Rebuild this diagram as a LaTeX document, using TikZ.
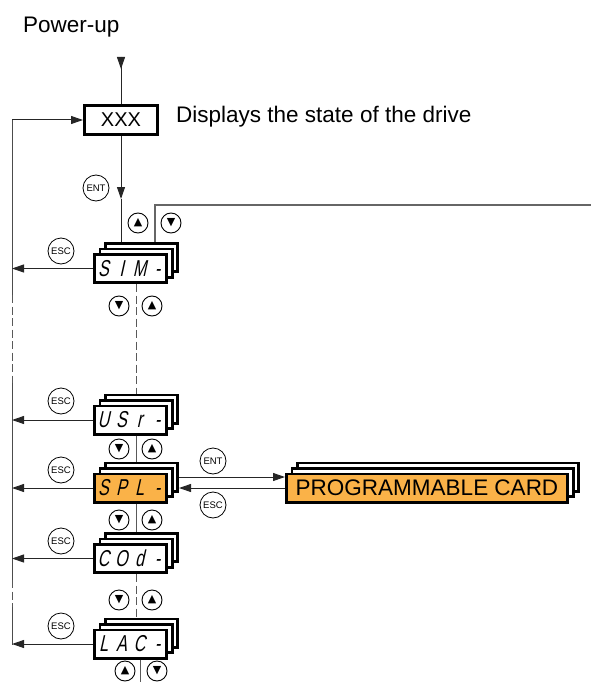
\documentclass[tikz,border=0pt]{standalone}
\usepackage{fontspec}
\setmainfont{Liberation Sans}
\newfontfamily\segfont[FakeSlant=0.22,FakeStretch=0.7]{Liberation Sans}
\newfontfamily\symfont{DejaVu Sans}
\usetikzlibrary{arrows.meta}
\definecolor{cardorange}{RGB}{250,178,72}
\newcommand\segcells[4]{\segfont\fontsize{23}{23}\selectfont\makebox[18pt]{#1}\makebox[18pt]{#2}\makebox[18pt]{#3}\makebox[18pt]{#4}}
% name, x, y, fill, c1..c4
\newcommand\menustack[8]{%
  \node[card] (#1-b) at (#2+11,#3-11) {};
  \node[card] (#1-m) at (#2+5.5,#3-5.5) {};
  \node[card, fill=#4] (#1) at (#2,#3) {\segcells{#5}{#6}{#7}{#8}};
}
\tikzset{
  card/.style={draw, line width=2.6pt, fill=white, minimum width=72.4pt, minimum height=28.4pt, inner sep=0pt},
  widecard/.style={card, minimum width=281.4pt},
  key/.style={circle, draw, line width=0.8pt, minimum size=26pt, inner sep=0pt, font=\fontsize{9.5}{10}\selectfont},
  btn/.style={circle, draw, line width=0.9pt, minimum size=20pt, inner sep=0pt, font=\symfont\fontsize{11}{11}\selectfont},
  conn/.style={line width=1pt, black!85},
  arr/.style={conn, -{Triangle[length=12pt,width=8pt]}},
  gline/.style={line width=1.3pt, black!60},
  dline/.style={line width=1pt, black!65, dash pattern=on 8pt off 3.5pt},
  label/.style={inner sep=0pt, font=\fontsize{22.5}{27}\selectfont},
}
\begin{document}
\begin{tikzpicture}[x=1pt,y=-1pt]
\useasboundingbox (0,0) rectangle (591,682);

% texts
\node[label, anchor=base west] (pwr) at (23,32.5) {Power-up};
\node[label, anchor=base west] (disp) at (176,122) {Displays the state of the drive};

% XXX box
\node[draw, line width=2.6pt, minimum width=73.4pt, minimum height=28.4pt, inner sep=0pt, font=\fontsize{20}{24}\selectfont] (xxx) at (121,120) {XXX};

% menu stacks
\menustack{SIN}{130.5}{268.5}{white}{S}{I}{M}{-}
\menustack{USR}{130.5}{420}{white}{U}{S}{r}{-}
\menustack{SPL}{130.5}{488}{cardorange}{S}{P}{L}{-}
\menustack{COD}{130.5}{558.5}{white}{C}{O}{d}{-}
\menustack{LAC}{130.5}{644}{white}{L}{A}{C}{-}

% programmable card stack
\node[widecard] (PRG-b) at (438,477) {};
\node[widecard] (PRG-m) at (432.5,482.5) {};
\node[widecard, fill=cardorange, font=\fontsize{22.5}{27}\selectfont] (PRG) at (427,488) {PROGRAMMABLE CARD};

% coordinates
\coordinate (pu) at (121,57);
\coordinate (putip) at (121,69);
\coordinate (enttip) at (121,199);
\coordinate (L0) at (12,120);
\coordinate (La) at (12,295);
\coordinate (Lb) at (12,383);
\coordinate (Lc) at (12,580);
\coordinate (Ld) at (12,607);
\coordinate (Le) at (12,645);
\coordinate (rx) at (155,205);
\coordinate (rend) at (591,205);
\coordinate (midx) at (136,0);
\coordinate (botx) at (140,682);

% power-up and ENT arrows
\draw[conn] (pu) -- (xxx.north);
\draw[arr] (pu) -- (putip);
\draw[arr] (xxx.south) -- (enttip);
\draw[conn] (enttip) -- (enttip |- SIN-b.north);

% line to the right
\draw[gline] (rx |- SIN-b.north) -- (rx) -- (rend);

% left return line
\draw[conn, black!70] (L0) -- (La);
\draw[dline] (La) -- (Lb);
\draw[conn, black!70] (Lb) -- (Lc);
\draw[dline] (Lc) -- (Ld);
\draw[conn, black!70] (Ld) -- (Le);
\draw[arr] (L0) -- (xxx.west);

% ESC arrows to the left
\draw[arr] (SIN.west) -- (SIN.west -| L0);
\draw[arr] (USR.west) -- (USR.west -| L0);
\draw[arr] (SPL.west) -- (SPL.west -| L0);
\draw[arr] (COD.west) -- (COD.west -| L0);
\draw[arr] (LAC.west) -- (LAC.west -| L0);

% central links
\draw[dline] (SIN.south -| midx) -- (USR-b.north -| midx);
\draw[conn, black!65] (USR.south -| midx) -- (SPL-b.north -| midx);
\draw[conn, black!65] (SPL.south -| midx) -- (COD-b.north -| midx);
\draw[dline] (COD.south -| midx) -- (LAC-b.north -| midx);
\draw[conn, black!65] (LAC.south -| botx) -- (botx);

% programmable card links
\draw[arr] (SPL-b.east) -- (SPL-b.east -| PRG.west);
\draw[arr] (PRG.west) -- (PRG.west -| SPL-b.east);

% keys
\node[key] (ent1) at (96,188) {ENT};
\node[key] (esc1) at (61,251) {ESC};
\node[key] (esc2) at (61,401) {ESC};
\node[key] (esc3) at (61,470) {ESC};
\node[key] (esc4) at (61,541) {ESC};
\node[key] (esc5) at (61,626) {ESC};
\node[key] (ent2) at (213,461) {ENT};
\node[key] (esc6) at (213,505) {ESC};

% arrow buttons
\node[btn] (u1) at (138,223) {▲};
\node[btn] (d1) at (171,223) {▼};
\node[btn] (d2) at (119,306) {▼};
\node[btn] (u2) at (152,306) {▲};
\node[btn] (d3) at (119,449) {▼};
\node[btn] (u3) at (152,449) {▲};
\node[btn] (d4) at (119,520) {▼};
\node[btn] (u4) at (152,520) {▲};
\node[btn] (d5) at (119,600) {▼};
\node[btn] (u5) at (152,600) {▲};
\node[btn] (u6) at (125,671) {▲};
\node[btn] (d6) at (157,671) {▼};
\end{tikzpicture}
\end{document}
